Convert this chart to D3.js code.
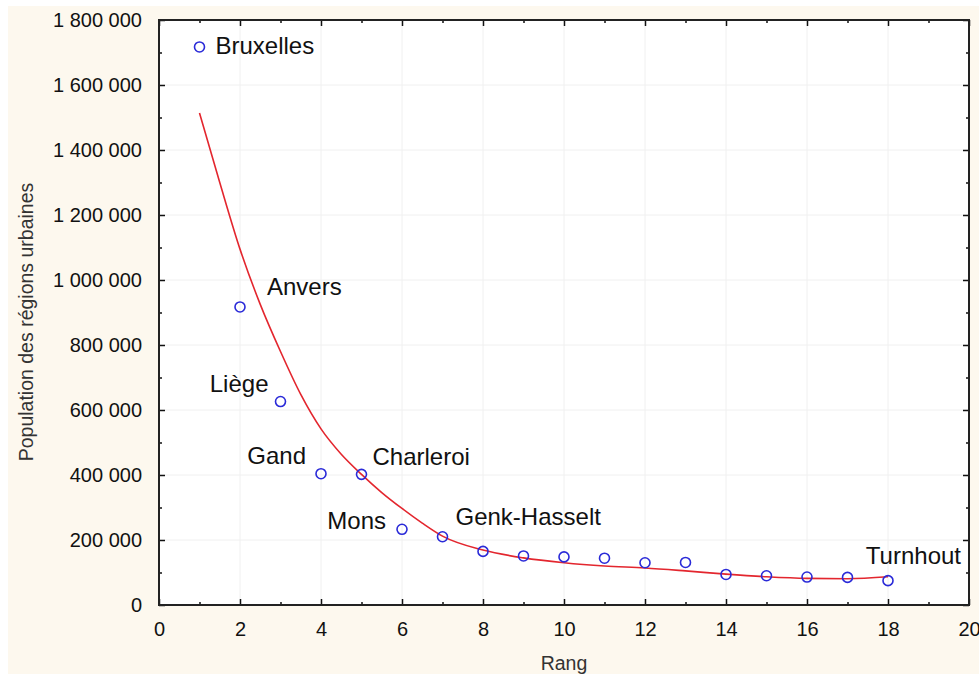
<!DOCTYPE html>
<html>
<head>
<meta charset="utf-8">
<script src="https://cdn.jsdelivr.net/npm/d3@7"></script>
<style>
    body { margin: 0; background: #ffffff; }
    text { font-family: "Liberation Sans", Arial, sans-serif; fill: #111; }
</style>
</head>
<body>
<svg id="chart" width="979" height="676"></svg>
<script>
// rang des régions urbaines belges et population
var ranks = [1, 2, 3, 4, 5, 6, 7, 8, 9, 10, 11, 12, 13, 14, 15, 16, 17, 18];
var population = [1717000, 917000, 626000, 404000, 402000, 233000, 210000, 165000, 151000,
    148000, 144000, 130000, 131000, 94000, 90000, 86000, 85000, 75000];
var names = ["Bruxelles", "Anvers", "Liège", "Gand", "Charleroi", "Mons", "Genk-Hasselt",
    "", "", "", "", "", "", "", "", "", "", "Turnhout"];

// courbe ajustée
var fitRanks = [1, 1.5, 2, 2.5, 3, 3.5, 4, 4.5, 5, 5.5, 6, 6.5, 7, 8, 9, 10, 11, 12, 13, 14, 15, 16, 17, 18];
var fitValues = [1514000, 1300000, 1095000, 925000, 780000, 648000, 542000, 464000, 402000, 346000,
    297000, 252000, 212000, 169000, 145000, 130000, 120000, 114000, 105000, 95000, 87000, 82000, 81000, 87000];

var xTicks = [0, 2, 4, 6, 8, 10, 12, 14, 16, 18, 20];
var yTicks = [0, 200000, 400000, 600000, 800000, 1000000, 1200000, 1400000, 1600000, 1800000];

// placement des étiquettes : [dx, dy, ancre]
var labelPos = {
    "Bruxelles": [16, 7, "start"],
    "Anvers": [27, -12, "start"],
    "Liège": [-12, -10, "end"],
    "Gand": [-15, -10, "end"],
    "Charleroi": [11, -9, "start"],
    "Mons": [-16, 0, "end"],
    "Genk-Hasselt": [13, -12, "start"],
    "Turnhout": [73, -17, "end"]
};

var svg = d3.select("#chart");

var locale = d3.formatLocale({decimal: ",", thousands: " ", grouping: [3], currency: ["", " €"]});
var fmt = locale.format(",d");

var x = d3.scaleLinear().domain([0, 20]).range([159, 969]);
var y = d3.scaleLinear().domain([0, 1800000]).range([605, 20]);

svg.append("rect")
    .attr("x", 8).attr("y", 6)
    .attr("width", 971).attr("height", 668)
    .attr("fill", "#fdf8ee");

svg.append("rect")
    .attr("x", x(0)).attr("y", y(1800000))
    .attr("width", x(20) - x(0)).attr("height", y(0) - y(1800000))
    .attr("fill", "#ffffff");

// grille
svg.append("g").selectAll("line")
    .data(xTicks.slice(1, -1))
    .enter().append("line")
    .attr("x1", function (d) { return x(d); })
    .attr("x2", function (d) { return x(d); })
    .attr("y1", y(0)).attr("y2", y(1800000))
    .attr("stroke", "#f0f0f0");

svg.append("g").selectAll("line")
    .data(yTicks.slice(1, -1))
    .enter().append("line")
    .attr("y1", function (d) { return y(d); })
    .attr("y2", function (d) { return y(d); })
    .attr("x1", x(0)).attr("x2", x(20))
    .attr("stroke", "#f0f0f0");

// axes, graduations vers l'intérieur
function axisStyle(g) {
    g.select(".domain").remove();
    g.selectAll(".tick line").attr("stroke", "#111").attr("stroke-width", 1.5);
    g.selectAll(".tick text").style("font-size", "20px").attr("fill", "#111");
}

svg.append("g")
    .attr("transform", "translate(0," + y(0) + ")")
    .call(d3.axisBottom(x).tickValues(xTicks).tickSize(-6).tickPadding(17).tickFormat(d3.format("d")))
    .call(axisStyle);
svg.append("g")
    .attr("transform", "translate(0," + y(0) + ")")
    .call(d3.axisBottom(x).tickValues(d3.range(1, 20, 2)).tickSize(-3).tickFormat(""))
    .call(axisStyle);
svg.append("g")
    .attr("transform", "translate(0," + y(1800000) + ")")
    .call(d3.axisTop(x).tickValues(xTicks).tickSize(-6).tickFormat(""))
    .call(axisStyle);
svg.append("g")
    .attr("transform", "translate(0," + y(1800000) + ")")
    .call(d3.axisTop(x).tickValues(d3.range(1, 20, 2)).tickSize(-3).tickFormat(""))
    .call(axisStyle);

svg.append("g")
    .attr("transform", "translate(" + x(0) + ",0)")
    .call(d3.axisLeft(y).tickValues(yTicks).tickSize(-6).tickPadding(17).tickFormat(fmt))
    .call(axisStyle);
svg.append("g")
    .attr("transform", "translate(" + x(0) + ",0)")
    .call(d3.axisLeft(y).tickValues(d3.range(100000, 1800000, 200000)).tickSize(-3).tickFormat(""))
    .call(axisStyle);
svg.append("g")
    .attr("transform", "translate(" + x(20) + ",0)")
    .call(d3.axisRight(y).tickValues(yTicks).tickSize(-6).tickFormat(""))
    .call(axisStyle);
svg.append("g")
    .attr("transform", "translate(" + x(20) + ",0)")
    .call(d3.axisRight(y).tickValues(d3.range(100000, 1800000, 200000)).tickSize(-3).tickFormat(""))
    .call(axisStyle);

svg.append("rect")
    .attr("x", x(0)).attr("y", y(1800000))
    .attr("width", x(20) - x(0)).attr("height", y(0) - y(1800000))
    .attr("fill", "none")
    .attr("stroke", "#222")
    .attr("stroke-width", 2);

// courbe
var line = d3.line()
    .x(function (d) { return x(d[0]); })
    .y(function (d) { return y(d[1]); })
    .curve(d3.curveMonotoneX);

svg.append("path")
    .datum(d3.zip(fitRanks, fitValues))
    .attr("d", line)
    .attr("fill", "none")
    .attr("stroke", "#e3262e")
    .attr("stroke-width", 1.6);

// points
var points = d3.zip(ranks, population, names);

svg.append("g").selectAll("circle")
    .data(points)
    .enter().append("circle")
    .attr("cx", function (d) { return x(d[0]); })
    .attr("cy", function (d) { return y(d[1]); })
    .attr("r", 5)
    .attr("fill", "none")
    .attr("stroke", "#2a2ad8")
    .attr("stroke-width", 1.6);

svg.append("g").selectAll("text")
    .data(points.filter(function (d) { return d[2] !== ""; }))
    .enter().append("text")
    .attr("x", function (d) { return x(d[0]) + labelPos[d[2]][0]; })
    .attr("y", function (d) { return y(d[1]) + labelPos[d[2]][1]; })
    .attr("text-anchor", function (d) { return labelPos[d[2]][2]; })
    .style("font-size", "24px")
    .text(function (d) { return d[2]; });

// titres des axes
svg.append("text")
    .attr("x", (x(0) + x(20)) / 2)
    .attr("y", 670)
    .attr("text-anchor", "middle")
    .style("font-size", "19.5px")
    .style("fill", "#333")
    .text("Rang");

svg.append("text")
    .attr("transform", "translate(33," + 322 + ") rotate(-90)")
    .attr("text-anchor", "middle")
    .style("font-size", "19.5px")
    .style("fill", "#333")
    .text("Population des régions urbaines");
</script>
</body>
</html>
